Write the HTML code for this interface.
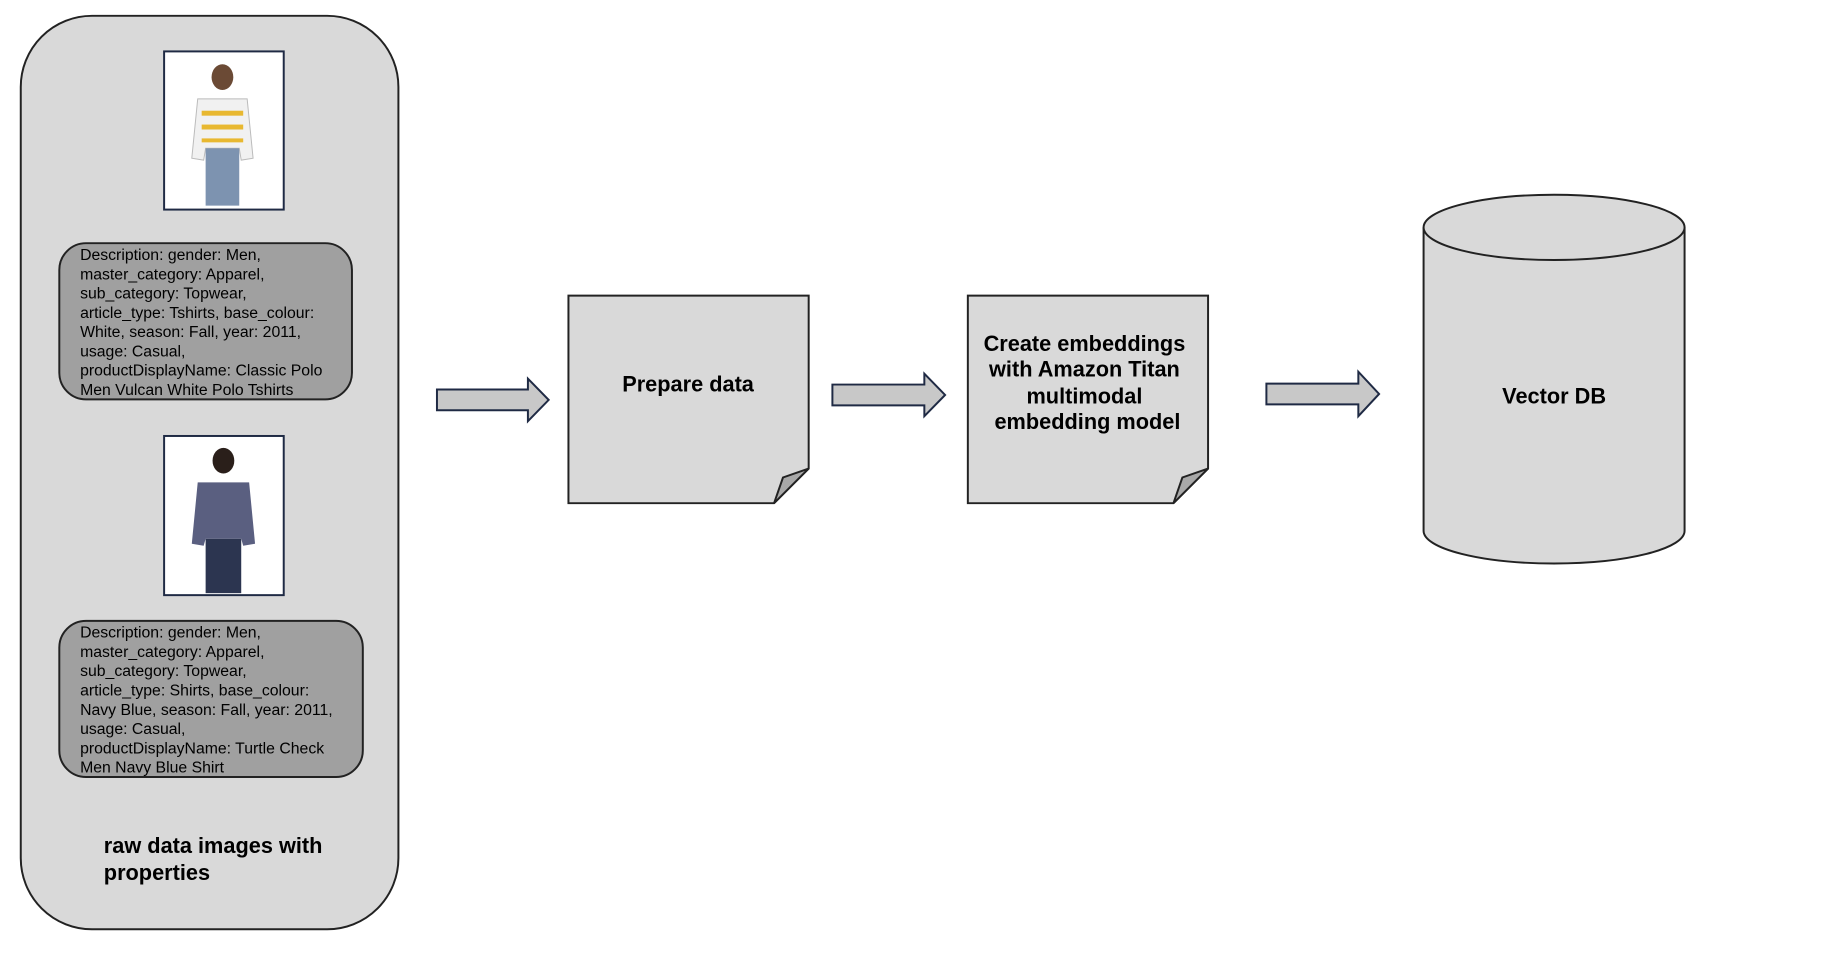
<!DOCTYPE html>
<html><head><meta charset="utf-8"><style>
html,body{margin:0;padding:0;background:#fff;width:1822px;height:962px;overflow:hidden}
svg text{font-family:"Liberation Sans",Arial,sans-serif}
</style></head><body>
<svg width="1822" height="962" viewBox="0 0 1822 962" xmlns="http://www.w3.org/2000/svg">
<g transform="scale(0.9886)">
<rect x="21" y="16" width="382" height="924" rx="72" ry="72" fill="#d9d9d9" stroke="#222" stroke-width="2"/>
<rect x="166" y="52" width="121" height="160" fill="#fff" stroke="#1f2a44" stroke-width="2"/>
<g>
<ellipse cx="225" cy="78" rx="11" ry="13" fill="#6b4a35"/>
<path d="M200 100 L250 100 L256 160 L244 162 L242 150 L208 150 L206 162 L194 160 Z" fill="#f1f1f1" stroke="#bbb"/>
<rect x="204" y="112" width="42" height="5" fill="#e8b830"/>
<rect x="204" y="126" width="42" height="5" fill="#e8b830"/>
<rect x="204" y="140" width="42" height="4" fill="#e8b830"/>
<rect x="208" y="150" width="34" height="58" fill="#7d93b0"/>
</g>
<rect x="60" y="246" width="296" height="158" rx="27" fill="#a0a0a0" stroke="#222" stroke-width="2"/>
<text font-size="16" fill="#000" textLength="0">
<tspan x="81" y="263">Description: gender: Men,</tspan>
<tspan x="81" y="282.5">master_category: Apparel,</tspan>
<tspan x="81" y="302">sub_category: Topwear,</tspan>
<tspan x="81" y="321.5">article_type: Tshirts, base_colour:</tspan>
<tspan x="81" y="341">White, season: Fall, year: 2011,</tspan>
<tspan x="81" y="360.5">usage: Casual,</tspan>
<tspan x="81" y="380">productDisplayName: Classic Polo</tspan>
<tspan x="81" y="399.5">Men Vulcan White Polo Tshirts</tspan>
</text>
<rect x="166" y="441" width="121" height="161" fill="#fff" stroke="#1f2a44" stroke-width="2"/>
<g>
<ellipse cx="226" cy="466" rx="11" ry="13" fill="#2a1f1a"/>
<path d="M200 488 L252 488 L258 550 L246 552 L244 545 L208 545 L206 552 L194 550 Z" fill="#5a5f80"/>
<rect x="208" y="545" width="36" height="55" fill="#2c3550"/>
</g>
<rect x="60" y="628" width="307" height="158" rx="27" fill="#a0a0a0" stroke="#222" stroke-width="2"/>
<text font-size="16" fill="#000">
<tspan x="81" y="645">Description: gender: Men,</tspan>
<tspan x="81" y="664.5">master_category: Apparel,</tspan>
<tspan x="81" y="684">sub_category: Topwear,</tspan>
<tspan x="81" y="703.5">article_type: Shirts, base_colour:</tspan>
<tspan x="81" y="723">Navy Blue, season: Fall, year: 2011,</tspan>
<tspan x="81" y="742.5">usage: Casual,</tspan>
<tspan x="81" y="762">productDisplayName: Turtle Check</tspan>
<tspan x="81" y="781.5">Men Navy Blue Shirt</tspan>
</text>
<text font-size="22" font-weight="bold"><tspan x="105" y="863">raw data images with</tspan><tspan x="105" y="890">properties</tspan></text>
<g fill="#c8c8c8" stroke="#1f2a44" stroke-width="2">
<path d="M442 394 L534 394 L534 383 L555 404.5 L534 426 L534 415 L442 415 Z"/>
<path d="M842 389 L935 389 L935 378 L956 399.5 L935 421 L935 410 L842 410 Z"/>
<path d="M1281 388 L1374 388 L1374 376 L1395 398.5 L1374 421 L1374 409 L1281 409 Z"/>
</g>
<g stroke="#222" stroke-width="2">
<path d="M575 299 L818 299 L818 474 L783 509 L575 509 Z" fill="#d9d9d9"/>
<path d="M818 474 L783 509 L792 483 Z" fill="#a8a8a8"/>
<path d="M979 299 L1222 299 L1222 474 L1187 509 L979 509 Z" fill="#d9d9d9"/>
<path d="M1222 474 L1187 509 L1196 483 Z" fill="#a8a8a8"/>
</g>
<text x="696" y="396" font-size="22" font-weight="bold" text-anchor="middle">Prepare data</text>
<text font-size="22" font-weight="bold" text-anchor="middle">
<tspan x="1100" y="355">Create embeddings</tspan>
<tspan x="1100" y="381">with Amazon Titan</tspan>
<tspan x="1100" y="408">multimodal</tspan>
<tspan x="1100" y="434">embedding model</tspan>
</text>
<path d="M1440 230 L1440 537 A132 33 0 0 0 1704 537 L1704 230" fill="#d9d9d9" stroke="#222" stroke-width="2"/>
<ellipse cx="1572" cy="230" rx="132" ry="33" fill="#d9d9d9" stroke="#222" stroke-width="2"/>
<text x="1572" y="408" font-size="22" font-weight="bold" text-anchor="middle">Vector DB</text>
</g>
</svg>
</body></html>
